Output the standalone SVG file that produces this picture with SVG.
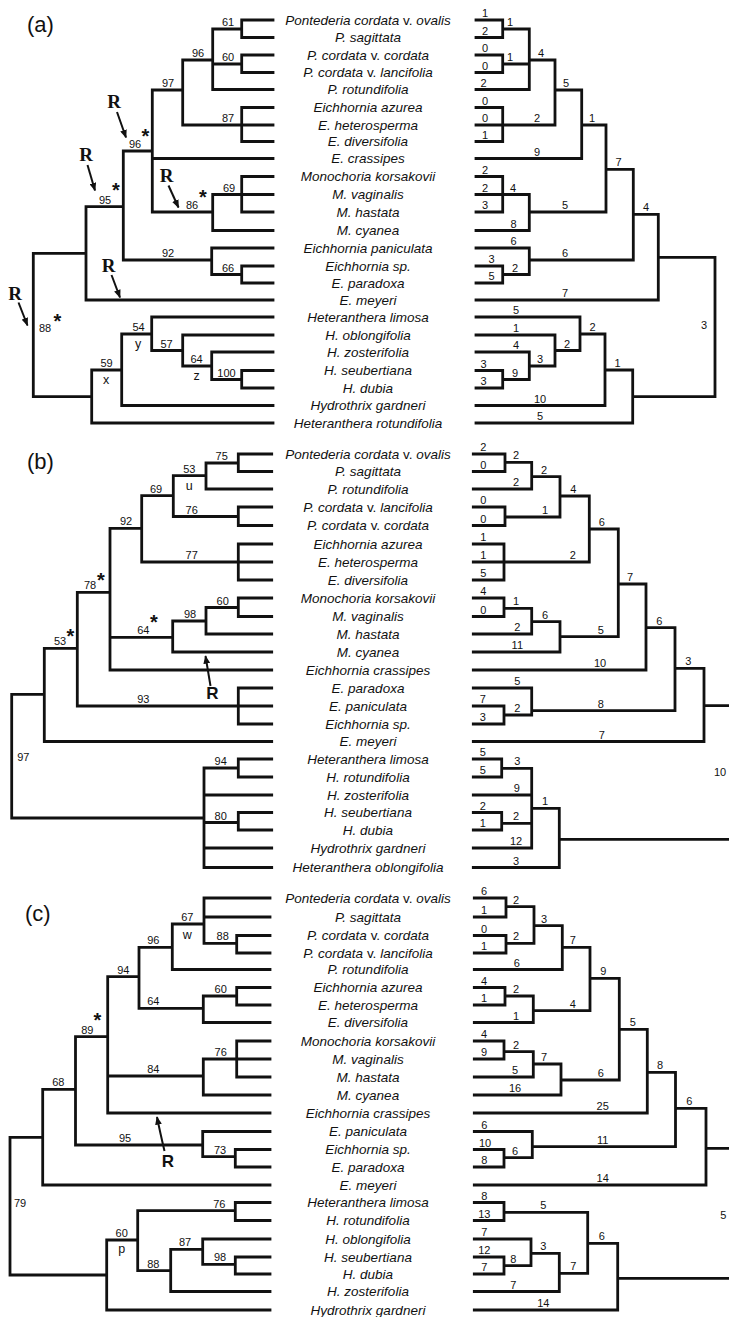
<svg xmlns="http://www.w3.org/2000/svg" width="729" height="1317" viewBox="0 0 729 1317">
<style>
.br{fill:none;stroke:#111;stroke-width:2.8;stroke-linecap:square}
.ar{fill:none;stroke:#111;stroke-width:2}
.tx{font-family:"Liberation Sans",Arial,sans-serif;font-style:italic;font-size:13.5px;text-anchor:middle;fill:#111}
.up{font-style:normal}
.lb{font-family:"Liberation Sans",Arial,sans-serif;font-size:11px;text-anchor:middle;fill:#111}
.lt{font-family:"Liberation Sans",Arial,sans-serif;font-size:12.5px;text-anchor:middle;fill:#111}
.st{font-family:"Liberation Sans",Arial,sans-serif;font-size:20px;font-weight:bold;text-anchor:middle;fill:#111}
.rs{font-family:"Liberation Serif","Times New Roman",serif;font-weight:bold;font-size:19px;text-anchor:middle;fill:#111}
.rb{font-family:"Liberation Sans",Arial,sans-serif;font-weight:bold;font-size:17px;text-anchor:middle;fill:#111}
.pl{font-family:"Liberation Sans",Arial,sans-serif;font-size:22px;fill:#111}
</style>
<defs>
<marker id="ah" viewBox="0 0 10 8" refX="9" refY="4" markerWidth="8.5" markerHeight="7" markerUnits="userSpaceOnUse" orient="auto"><path d="M0 0L10 4L0 8z" fill="#111"/></marker>
</defs>
<rect width="729" height="1317" fill="#fff"/>

<g id="panel-labels">
<text class="pl" x="27" y="32">(a)</text>
<text class="pl" x="27" y="469">(b)</text>
<text class="pl" x="25" y="921">(c)</text>
</g>

<g id="connectors">
<path id="a-left" class="br" d="M241.7 20V37.5M241.7 29H212.7M241.7 55V72.5M241.7 64H212.7M212.7 29V89.5M212.7 60H182.7M241.7 107.5V141.5M241.7 125H182.7M182.7 60V125M182.7 90H152.3M241.7 176.5V212M241.7 194.5H212.7M212.7 194.5V230.5M212.7 212H152.3M152.3 90V212M152.3 151H123.3M241.7 266V283M241.7 274.5H211.7M211.7 248V274.5M211.7 260H123.3M123.3 151V260M123.3 206.7H86M86 206.7V300M86 253.3H33.3M241.7 370.5V388M241.7 379.5H211.7M211.7 352V379.5M211.7 366H182.7M182.7 335V366M182.7 350.5H151.7M151.7 317V350.5M151.7 334H121.7M121.7 334V405.5M121.7 370H91.7M91.7 370V423M91.7 396.7H33.3M33.3 253.3V396.7
M241.7 20H273M241.7 37.5H273M241.7 55H273M241.7 72.5H273M212.7 89.5H273M241.7 107.5H273M241.7 125H273M241.7 141.5H273M152.3 158.5H273M241.7 176.5H273M241.7 194.5H273M241.7 212H273M212.7 230.5H273M211.7 248H273M241.7 266H273M241.7 283H273M86 300H273M151.7 317H273M182.7 335H273M211.7 352H273M241.7 370.5H273M241.7 388H273M121.7 405.5H273M91.7 423H273"/>
<path id="a-right" class="br" d="M502.7 20V37.5M502.7 29H529.3M502.7 55V72.5M502.7 64H529.3M529.3 29V89.5M529.3 60H555M502.7 107.5V141.5M502.7 125H555M555 60V125M555 90H581.7M581.7 90V158.5M581.7 125H606M502.7 176.5V212M502.7 194.5H529.3M529.3 194.5V230.5M529.3 212H606M606 125V212M606 169.3H633.3M502.7 266V283M502.7 274.5H529.3M529.3 248V274.5M529.3 260H633.3M633.3 169.3V260M633.3 214.3H658.3M658.3 214.3V300M658.3 257.3H715M502.7 370.5V388M502.7 379.5H529.3M529.3 352V379.5M529.3 366H555M555 335V366M555 350.5H580M580 317V350.5M580 334H605M605 334V405.5M605 370H632.7M632.7 370V423M632.7 396.7H715M715 257.3V396.7
M476 20H502.7M476 37.5H502.7M476 55H502.7M476 72.5H502.7M476 89.5H529.3M476 107.5H502.7M476 125H502.7M476 141.5H502.7M476 158.5H581.7M476 176.5H502.7M476 194.5H502.7M476 212H502.7M476 230.5H529.3M476 248H529.3M476 266H502.7M476 283H502.7M476 300H658.3M476 317H580M476 335H555M476 352H529.3M476 370.5H502.7M476 388H502.7M476 405.5H605M476 423H632.7"/>
<path id="b-left" class="br" d="M238.3 454V471.5M238.3 463H206M206 463V489M206 475.7H173.3M238.3 507V525.5M238.3 516.5H173.3M173.3 475.7V516.5M173.3 495.7H141.7M238.3 544V580M238.3 562H141.7M141.7 495.7V562M141.7 528.3H110M238.3 598V616.5M238.3 607.5H206M206 607.5V634M206 621H172.7M172.7 621V652M172.7 637.3H110M110 528.3V670M110 592.3H77.3M238.3 688V724M238.3 706H77.3M77.3 592.3V706M77.3 648.3H44.3M44.3 648.3V741.5M44.3 694.3H11.7M238.3 759V777M238.3 768H204M238.3 812.5V830M238.3 822.5H204M204 768V867.5M204 818H11.7M11.7 694.3V818
M238.3 454H271.7M238.3 471.5H271.7M206 489H271.7M238.3 507H271.7M238.3 525.5H271.7M238.3 544H271.7M238.3 562H271.7M238.3 580H271.7M238.3 598H271.7M238.3 616.5H271.7M206 634H271.7M172.7 652H271.7M110 670H271.7M238.3 688H271.7M238.3 706H271.7M238.3 724H271.7M44.3 741.5H271.7M238.3 759H271.7M238.3 777H271.7M204 795H271.7M238.3 812.5H271.7M238.3 830H271.7M204 848H271.7M204 867.5H271.7"/>
<path id="b-right" class="br" d="M505 454V471.5M505 462.3H531.7M531.7 462.3V489M531.7 476.7H560M505 507V525.5M505 517H560M560 476.7V517M560 496H589.3M504 544V580M504 562H589.3M589.3 496V562M589.3 529H618.3M504 598V616.5M504 608.3H531.7M531.7 608.3V634M531.7 621.7H560M560 621.7V652M560 636.7H618.3M618.3 529V636.7M618.3 584H646M646 584V670M646 627.7H675M504 706V724M504 715H531.7M531.7 688V715M531.7 710.7H675M675 627.7V710.7M675 668.3H704M704 668.3V741.5M704 705.7H730M501.7 759V777M501.7 768.3H531.7M501.7 812.5V830M501.7 823.3H531.7M531.7 768.3V848M531.7 808.3H559.3M559.3 808.3V867.5M559.3 839.3H730
M473.3 454H505M473.3 471.5H505M473.3 489H531.7M473.3 507H505M473.3 525.5H505M473.3 544H504M473.3 562H504M473.3 580H504M473.3 598H504M473.3 616.5H504M473.3 634H531.7M473.3 652H560M473.3 670H646M473.3 688H531.7M473.3 706H504M473.3 724H504M473.3 741.5H704M473.3 759H501.7M473.3 777H501.7M473.3 795H531.7M473.3 812.5H501.7M473.3 830H501.7M473.3 848H531.7M473.3 867.5H559.3"/>
<path id="c-left" class="br" d="M236.7 935.5V953M236.7 943.3H204M204 898V943.3M204 924H172.3M172.3 924V969.5M172.3 947.3H139M236.7 987.5V1005M236.7 996H203.3M203.3 996V1022.5M203.3 1008.3H139M139 947.3V1008.3M139 976.7H107.7M236.7 1041V1077M236.7 1059H203.3M203.3 1059V1095M203.3 1076H107.7M107.7 976.7V1113M107.7 1036.7H75.5M235.3 1149.5V1167M235.3 1156.7H202.7M202.7 1131.5V1156.7M202.7 1145H75.5M75.5 1036.7V1145M75.5 1089.3H42.7M42.7 1089.3V1185M42.7 1137.3H10M235.3 1202.5V1220.5M235.3 1210.7H137.7M235.3 1257V1274M235.3 1264.3H202.7M202.7 1239V1264.3M202.7 1249.3H170.7M170.7 1249.3V1291.5M170.7 1270.7H137.7M137.7 1210.7V1270.7M137.7 1240H106.7M106.7 1240V1310M106.7 1275H10M10 1137.3V1275
M204 898H270M204 917H270M236.7 935.5H270M236.7 953H270M172.3 969.5H270M236.7 987.5H270M236.7 1005H270M203.3 1022.5H270M236.7 1041H270M236.7 1059H270M236.7 1077H270M203.3 1095H270M107.7 1113H270M202.7 1131.5H270M235.3 1149.5H270M235.3 1167H270M42.7 1185H270M235.3 1202.5H270M235.3 1220.5H270M202.7 1239H270M235.3 1257H270M235.3 1274H270M170.7 1291.5H270M106.7 1310H270"/>
<path id="c-right" class="br" d="M506 898V917M506 906.7H534M506 935.5V953M506 943.3H534M534 906.7V943.3M534 925.7H562.3M562.3 925.7V969.5M562.3 947.3H590M505 987.5V1005M505 996H533.3M533.3 996V1022.5M533.3 1010.7H590M590 947.3V1010.7M590 978.3H619.3M504 1041V1059M504 1051.7H533.3M533.3 1051.7V1077M533.3 1064H561M561 1064V1095M561 1080H619.3M619.3 978.3V1080M619.3 1029.3H647.3M647.3 1029.3V1113M647.3 1072.3H675.5M504 1149.5V1167M504 1157.7H532.3M532.3 1131.5V1157.7M532.3 1146.7H675.5M675.5 1072.3V1146.7M675.5 1108.3H706M706 1108.3V1185M706 1148.3H730M504 1202.5V1220.5M504 1212.3H587.7M504 1257V1274M504 1265.7H531M531 1239V1265.7M531 1253.3H559.3M559.3 1253.3V1291.5M559.3 1273.3H587.7M587.7 1212.3V1273.3M587.7 1243.3H617.7M617.7 1243.3V1310M617.7 1278.3H730
M474.3 898H506M474.3 917H506M474.3 935.5H506M474.3 953H506M474.3 969.5H562.3M474.3 987.5H505M474.3 1005H505M474.3 1022.5H533.3M474.3 1041H504M474.3 1059H504M474.3 1077H533.3M474.3 1095H561M474.3 1113H647.3M474.3 1131.5H532.3M474.3 1149.5H504M474.3 1167H504M474.3 1185H706M474.3 1202.5H504M474.3 1220.5H504M474.3 1239H531M474.3 1257H504M474.3 1274H504M474.3 1291.5H559.3M474.3 1310H617.7"/>
<g id="arrows">
<path class="ar" marker-end="url(#ah)" d="M117 112L126 137.5"/>
<path class="ar" marker-end="url(#ah)" d="M87.5 165L95 190.5"/>
<path class="ar" marker-end="url(#ah)" d="M168.5 185.5L178.5 207.5"/>
<path class="ar" marker-end="url(#ah)" d="M111.5 275L120 297.5"/>
<path class="ar" marker-end="url(#ah)" d="M18.5 302.5L27.5 325.5"/>
<path class="ar" marker-end="url(#ah)" d="M210.5 686L205.5 656"/>
<path class="ar" marker-end="url(#ah)" d="M164.5 1151Q160 1132 157 1117"/>
</g>
</g>

<g id="a-taxa">
<g id="a0"><text class="tx" x="368" y="24.5">Pontederia cordata <tspan class="up">v.</tspan> ovalis</text></g>
<g id="a1"><text class="tx" x="368" y="42">P. sagittata</text></g>
<g id="a2"><text class="tx" x="368" y="59.5">P. cordata <tspan class="up">v.</tspan> cordata</text></g>
<g id="a3"><text class="tx" x="368" y="77">P. cordata <tspan class="up">v.</tspan> lancifolia</text></g>
<g id="a4"><text class="tx" x="368" y="94">P. rotundifolia</text></g>
<g id="a5"><text class="tx" x="368" y="112">Eichhornia azurea</text></g>
<g id="a6"><text class="tx" x="368" y="129.5">E. heterosperma</text></g>
<g id="a7"><text class="tx" x="368" y="146">E. diversifolia</text></g>
<g id="a8"><text class="tx" x="368" y="163">E. crassipes</text></g>
<g id="a9"><text class="tx" x="368" y="181">Monochoria korsakovii</text></g>
<g id="a10"><text class="tx" x="368" y="199">M. vaginalis</text></g>
<g id="a11"><text class="tx" x="368" y="216.5">M. hastata</text></g>
<g id="a12"><text class="tx" x="368" y="235">M. cyanea</text></g>
<g id="a13"><text class="tx" x="368" y="252.5">Eichhornia paniculata</text></g>
<g id="a14"><text class="tx" x="368" y="270.5">Eichhornia sp.</text></g>
<g id="a15"><text class="tx" x="368" y="287.5">E. paradoxa</text></g>
<g id="a16"><text class="tx" x="368" y="304.5">E. meyeri</text></g>
<g id="a17"><text class="tx" x="368" y="321.5">Heteranthera limosa</text></g>
<g id="a18"><text class="tx" x="368" y="339.5">H. oblongifolia</text></g>
<g id="a19"><text class="tx" x="368" y="356.5">H. zosterifolia</text></g>
<g id="a20"><text class="tx" x="368" y="375">H. seubertiana</text></g>
<g id="a21"><text class="tx" x="368" y="392.5">H. dubia</text></g>
<g id="a22"><text class="tx" x="368" y="410">Hydrothrix gardneri</text></g>
<g id="a23"><text class="tx" x="368" y="427.5">Heteranthera rotundifolia</text></g>
</g>

<g id="b-taxa">
<g id="b0"><text class="tx" x="368" y="458.5">Pontederia cordata <tspan class="up">v.</tspan> ovalis</text></g>
<g id="b1"><text class="tx" x="368" y="476">P. sagittata</text></g>
<g id="b2"><text class="tx" x="368" y="493.5">P. rotundifolia</text></g>
<g id="b3"><text class="tx" x="368" y="511.5">P. cordata <tspan class="up">v.</tspan> lancifolia</text></g>
<g id="b4"><text class="tx" x="368" y="530">P. cordata <tspan class="up">v.</tspan> cordata</text></g>
<g id="b5"><text class="tx" x="368" y="548.5">Eichhornia azurea</text></g>
<g id="b6"><text class="tx" x="368" y="566.5">E. heterosperma</text></g>
<g id="b7"><text class="tx" x="368" y="584.5">E. diversifolia</text></g>
<g id="b8"><text class="tx" x="368" y="602.5">Monochoria korsakovii</text></g>
<g id="b9"><text class="tx" x="368" y="621">M. vaginalis</text></g>
<g id="b10"><text class="tx" x="368" y="638.5">M. hastata</text></g>
<g id="b11"><text class="tx" x="368" y="656.5">M. cyanea</text></g>
<g id="b12"><text class="tx" x="368" y="674.5">Eichhornia crassipes</text></g>
<g id="b13"><text class="tx" x="368" y="692.5">E. paradoxa</text></g>
<g id="b14"><text class="tx" x="368" y="710.5">E. paniculata</text></g>
<g id="b15"><text class="tx" x="368" y="728.5">Eichhornia sp.</text></g>
<g id="b16"><text class="tx" x="368" y="746">E. meyeri</text></g>
<g id="b17"><text class="tx" x="368" y="763.5">Heteranthera limosa</text></g>
<g id="b18"><text class="tx" x="368" y="781.5">H. rotundifolia</text></g>
<g id="b19"><text class="tx" x="368" y="799.5">H. zosterifolia</text></g>
<g id="b20"><text class="tx" x="368" y="817">H. seubertiana</text></g>
<g id="b21"><text class="tx" x="368" y="834.5">H. dubia</text></g>
<g id="b22"><text class="tx" x="368" y="852.5">Hydrothrix gardneri</text></g>
<g id="b23"><text class="tx" x="368" y="872">Heteranthera oblongifolia</text></g>
</g>

<g id="c-taxa">
<g id="c0"><text class="tx" x="368" y="902.5">Pontederia cordata <tspan class="up">v.</tspan> ovalis</text></g>
<g id="c1"><text class="tx" x="368" y="921.5">P. sagittata</text></g>
<g id="c2"><text class="tx" x="368" y="940">P. cordata <tspan class="up">v.</tspan> cordata</text></g>
<g id="c3"><text class="tx" x="368" y="957.5">P. cordata <tspan class="up">v.</tspan> lancifolia</text></g>
<g id="c4"><text class="tx" x="368" y="974">P. rotundifolia</text></g>
<g id="c5"><text class="tx" x="368" y="992">Eichhornia azurea</text></g>
<g id="c6"><text class="tx" x="368" y="1009.5">E. heterosperma</text></g>
<g id="c7"><text class="tx" x="368" y="1027">E. diversifolia</text></g>
<g id="c8"><text class="tx" x="368" y="1045.5">Monochoria korsakovii</text></g>
<g id="c9"><text class="tx" x="368" y="1063.5">M. vaginalis</text></g>
<g id="c10"><text class="tx" x="368" y="1081.5">M. hastata</text></g>
<g id="c11"><text class="tx" x="368" y="1099.5">M. cyanea</text></g>
<g id="c12"><text class="tx" x="368" y="1117.5">Eichhornia crassipes</text></g>
<g id="c13"><text class="tx" x="368" y="1136">E. paniculata</text></g>
<g id="c14"><text class="tx" x="368" y="1154">Eichhornia sp.</text></g>
<g id="c15"><text class="tx" x="368" y="1171.5">E. paradoxa</text></g>
<g id="c16"><text class="tx" x="368" y="1189.5">E. meyeri</text></g>
<g id="c17"><text class="tx" x="368" y="1207">Heteranthera limosa</text></g>
<g id="c18"><text class="tx" x="368" y="1225">H. rotundifolia</text></g>
<g id="c19"><text class="tx" x="368" y="1243.5">H. oblongifolia</text></g>
<g id="c20"><text class="tx" x="368" y="1261.5">H. seubertiana</text></g>
<g id="c21"><text class="tx" x="368" y="1278.5">H. dubia</text></g>
<g id="c22"><text class="tx" x="368" y="1296">H. zosterifolia</text></g>
<g id="c23"><text class="tx" x="368" y="1314.5">Hydrothrix gardneri</text></g>
</g>

<g id="a-left-labels">
<text class="lb" x="228" y="26">61</text>
<text class="lb" x="228" y="61">60</text>
<text class="lb" x="198" y="57">96</text>
<text class="lb" x="168" y="87">97</text>
<text class="lb" x="228" y="122">87</text>
<text class="lb" x="135" y="148">96</text>
<text class="lb" x="105" y="203.5">95</text>
<text class="lb" x="192" y="209">86</text>
<text class="lb" x="229" y="191.5">69</text>
<text class="lb" x="168" y="257">92</text>
<text class="lb" x="228" y="271.5">66</text>
<text class="lb" x="45" y="331.5">88</text>
<text class="lb" x="138.5" y="331">54</text>
<text class="lt" x="138" y="348">y</text>
<text class="lb" x="166.5" y="347.5">57</text>
<text class="lb" x="196.5" y="363">64</text>
<text class="lt" x="196.5" y="380">z</text>
<text class="lb" x="226.5" y="376.5">100</text>
<text class="lb" x="106.5" y="367">59</text>
<text class="lt" x="106" y="384">x</text>
<text class="st" x="145.5" y="142.5">*</text>
<text class="st" x="116" y="197">*</text>
<text class="st" x="203" y="203.5">*</text>
<text class="st" x="57.5" y="328">*</text>
<text class="rs" x="114" y="108">R</text>
<text class="rs" x="86" y="161">R</text>
<text class="rs" x="166.5" y="181.5">R</text>
<text class="rs" x="108.5" y="271.5">R</text>
<text class="rs" x="15" y="300">R</text>
</g>

<g id="a-right-labels">
<text class="lb" x="485" y="17">1</text>
<text class="lb" x="485" y="34.5">2</text>
<text class="lb" x="485" y="52">0</text>
<text class="lb" x="485" y="69.5">0</text>
<text class="lb" x="483.5" y="86.5">2</text>
<text class="lb" x="485" y="104.5">0</text>
<text class="lb" x="485" y="122">0</text>
<text class="lb" x="485" y="138.5">1</text>
<text class="lb" x="537" y="155.5">9</text>
<text class="lb" x="485" y="173.5">2</text>
<text class="lb" x="485" y="191.5">2</text>
<text class="lb" x="485" y="209">3</text>
<text class="lb" x="513.5" y="227.5">8</text>
<text class="lb" x="513.5" y="245">6</text>
<text class="lb" x="491.5" y="263">3</text>
<text class="lb" x="491.5" y="280">5</text>
<text class="lb" x="565" y="297">7</text>
<text class="lb" x="516" y="314">5</text>
<text class="lb" x="516" y="332">1</text>
<text class="lb" x="516" y="349">4</text>
<text class="lb" x="483.5" y="367.5">3</text>
<text class="lb" x="483.5" y="385">3</text>
<text class="lb" x="540" y="402.5">10</text>
<text class="lb" x="540" y="420">5</text>
<text class="lb" x="510" y="26">1</text>
<text class="lb" x="510" y="61">1</text>
<text class="lb" x="541" y="57">4</text>
<text class="lb" x="566" y="87">5</text>
<text class="lb" x="537" y="122">2</text>
<text class="lb" x="592" y="122">1</text>
<text class="lb" x="618.5" y="166.3">7</text>
<text class="lb" x="513" y="191.5">4</text>
<text class="lb" x="565" y="209">5</text>
<text class="lb" x="646" y="211.3">4</text>
<text class="lb" x="565" y="257">6</text>
<text class="lb" x="515" y="271.5">2</text>
<text class="lb" x="592.5" y="331">2</text>
<text class="lb" x="567" y="347.5">2</text>
<text class="lb" x="540" y="363">3</text>
<text class="lb" x="515" y="376.5">9</text>
<text class="lb" x="617.5" y="367">1</text>
<text class="lb" x="704" y="329">3</text>
</g>

<g id="b-left-labels">
<text class="lb" x="221.7" y="460">75</text>
<text class="lb" x="189.3" y="472.7">53</text>
<text class="lt" x="189.3" y="489.5">u</text>
<text class="lb" x="156" y="492.7">69</text>
<text class="lb" x="191.7" y="513.5">76</text>
<text class="lb" x="126" y="525.3">92</text>
<text class="lb" x="191.7" y="559">77</text>
<text class="lb" x="90" y="589.3">78</text>
<text class="lb" x="222.7" y="604.5">60</text>
<text class="lb" x="190" y="618">98</text>
<text class="lb" x="143.3" y="634.3">64</text>
<text class="lb" x="60" y="645.3">53</text>
<text class="lb" x="143.3" y="703">93</text>
<text class="lb" x="23.3" y="760.7">97</text>
<text class="lb" x="220.7" y="765">94</text>
<text class="lb" x="220.7" y="819.5">80</text>
<text class="st" x="101" y="586.5">*</text>
<text class="st" x="154" y="628.8">*</text>
<text class="st" x="70.5" y="643">*</text>
<text class="rb" x="212.5" y="699">R</text>
</g>

<g id="b-right-labels">
<text class="lb" x="483.3" y="451">2</text>
<text class="lb" x="483.3" y="468.5">0</text>
<text class="lb" x="516" y="486">2</text>
<text class="lb" x="483.3" y="504">0</text>
<text class="lb" x="483.3" y="522.5">0</text>
<text class="lb" x="483.3" y="541">1</text>
<text class="lb" x="483.3" y="559">1</text>
<text class="lb" x="483.3" y="577">5</text>
<text class="lb" x="483.3" y="595">4</text>
<text class="lb" x="483.3" y="613.5">0</text>
<text class="lb" x="517.3" y="631">2</text>
<text class="lb" x="517.3" y="649">11</text>
<text class="lb" x="600" y="667">10</text>
<text class="lb" x="517.3" y="685">5</text>
<text class="lb" x="482.7" y="703">7</text>
<text class="lb" x="482.7" y="721">3</text>
<text class="lb" x="601.7" y="738.5">7</text>
<text class="lb" x="482.7" y="756">5</text>
<text class="lb" x="482.7" y="774">5</text>
<text class="lb" x="516.7" y="792">9</text>
<text class="lb" x="482.7" y="809.5">2</text>
<text class="lb" x="482.7" y="827">1</text>
<text class="lb" x="516" y="845">12</text>
<text class="lb" x="516" y="864.5">3</text>
<text class="lb" x="516" y="459.3">2</text>
<text class="lb" x="544" y="473.7">2</text>
<text class="lb" x="545" y="514">1</text>
<text class="lb" x="573.3" y="493">4</text>
<text class="lb" x="572.7" y="559">2</text>
<text class="lb" x="601.7" y="526">6</text>
<text class="lb" x="516" y="605.3">1</text>
<text class="lb" x="545" y="618.7">6</text>
<text class="lb" x="600.7" y="633.7">5</text>
<text class="lb" x="630" y="581">7</text>
<text class="lb" x="659.3" y="624.7">6</text>
<text class="lb" x="688.3" y="665.3">3</text>
<text class="lb" x="517.3" y="712">2</text>
<text class="lb" x="600.7" y="707.7">8</text>
<text class="lb" x="517.3" y="765.3">3</text>
<text class="lb" x="516" y="820.3">2</text>
<text class="lb" x="545" y="805.3">1</text>
<text class="lb" x="720" y="776">10</text>
</g>

<g id="c-left-labels">
<text class="lb" x="187.3" y="921">67</text>
<text class="lt" x="187.3" y="938.5">w</text>
<text class="lb" x="222.7" y="940.3">88</text>
<text class="lb" x="153.3" y="944.3">96</text>
<text class="lb" x="123.3" y="973.7">94</text>
<text class="lb" x="220.7" y="993">60</text>
<text class="lb" x="153.3" y="1005.3">64</text>
<text class="lb" x="87.3" y="1033.7">89</text>
<text class="lb" x="220.7" y="1056">76</text>
<text class="lb" x="153.3" y="1073">84</text>
<text class="lb" x="58.3" y="1086.3">68</text>
<text class="lb" x="125" y="1142">95</text>
<text class="lb" x="220" y="1153.7">73</text>
<text class="lb" x="20" y="1207.3">79</text>
<text class="lb" x="219.3" y="1207.7">76</text>
<text class="lb" x="121.7" y="1237">60</text>
<text class="lt" x="121.7" y="1252.5">p</text>
<text class="lb" x="185" y="1246.3">87</text>
<text class="lb" x="220" y="1261.3">98</text>
<text class="lb" x="153.3" y="1267.7">88</text>
<text class="st" x="97.3" y="1026.5">*</text>
<text class="rb" x="168" y="1166.5">R</text>
</g>

<g id="c-right-labels">
<text class="lb" x="484" y="895">6</text>
<text class="lb" x="484" y="914">1</text>
<text class="lb" x="484" y="932.5">0</text>
<text class="lb" x="484" y="950">1</text>
<text class="lb" x="516.7" y="966.5">6</text>
<text class="lb" x="484" y="984.5">4</text>
<text class="lb" x="484" y="1002">1</text>
<text class="lb" x="516" y="1019.5">1</text>
<text class="lb" x="484" y="1038">4</text>
<text class="lb" x="484" y="1056">9</text>
<text class="lb" x="515" y="1074">5</text>
<text class="lb" x="515" y="1092">16</text>
<text class="lb" x="602.7" y="1110">25</text>
<text class="lb" x="484.3" y="1128.5">6</text>
<text class="lb" x="485" y="1146.5">10</text>
<text class="lb" x="484.3" y="1164">8</text>
<text class="lb" x="602.7" y="1182">14</text>
<text class="lb" x="484.3" y="1199.5">8</text>
<text class="lb" x="484.3" y="1217.5">13</text>
<text class="lb" x="484.3" y="1236">7</text>
<text class="lb" x="484.3" y="1254">12</text>
<text class="lb" x="484.3" y="1271">7</text>
<text class="lb" x="513.3" y="1288.5">7</text>
<text class="lb" x="543.3" y="1307">14</text>
<text class="lb" x="516" y="903.7">2</text>
<text class="lb" x="516" y="940.3">2</text>
<text class="lb" x="544" y="922.7">3</text>
<text class="lb" x="572.7" y="944.3">7</text>
<text class="lb" x="516" y="993">2</text>
<text class="lb" x="572.7" y="1007.7">4</text>
<text class="lb" x="603.3" y="975.3">9</text>
<text class="lb" x="516" y="1048.7">2</text>
<text class="lb" x="544" y="1061">7</text>
<text class="lb" x="600.7" y="1077">6</text>
<text class="lb" x="632.7" y="1026.3">5</text>
<text class="lb" x="660" y="1069.3">8</text>
<text class="lb" x="515" y="1154.7">6</text>
<text class="lb" x="602.7" y="1143.7">11</text>
<text class="lb" x="689.3" y="1105.3">6</text>
<text class="lb" x="543.3" y="1209.3">5</text>
<text class="lb" x="513.3" y="1262.7">8</text>
<text class="lb" x="543.3" y="1250.3">3</text>
<text class="lb" x="573.3" y="1270.3">7</text>
<text class="lb" x="601.7" y="1240.3">6</text>
<text class="lb" x="723.3" y="1219">5</text>
</g>
</svg>
